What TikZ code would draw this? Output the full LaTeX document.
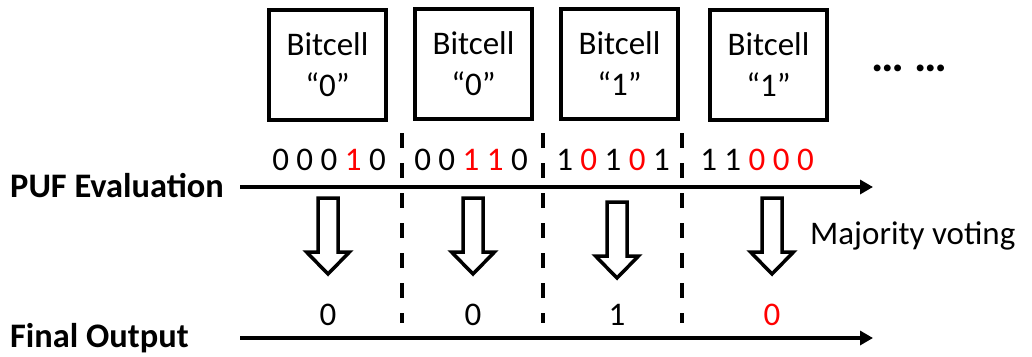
\documentclass[tikz,border=0pt]{standalone}
\usepackage{fontspec}
\setmainfont{Carlito}
\usetikzlibrary{arrows.meta}
\definecolor{bitred}{RGB}{255,0,0}
\begin{document}
\begin{tikzpicture}[x=1pt,y=-1pt,
  every node/.style={inner sep=0pt, font=\fontsize{33}{41}\selectfont},
  cellbox/.style={draw, line width=4pt, minimum width=117pt, minimum height=110pt, align=center},
  axis/.style={line width=4pt, -{Triangle[length=13pt,width=14pt]}},
  divider/.style={line width=4pt, dash pattern=on 15pt off 15pt},
  hollow/.style={draw, line width=3.5pt, line join=miter, fill=white},
  bits/.style={anchor=base},
  rowlabel/.style={anchor=base west, font=\fontsize{34.4}{41}\selectfont\bfseries}]
\useasboundingbox (0,0) rectangle (1032,356);

% bit cells
\node[cellbox] (cell1) at (327.5,64.5) {Bitcell\\“0”};
\node[cellbox] (cell2) at (473.5,63.5) {Bitcell\\“0”};
\node[cellbox] (cell3) at (619.5,63.5) {Bitcell\\“1”};
\node[cellbox] (cell4) at (768.5,64.5) {Bitcell\\“1”};
\node[anchor=base, font=\fontsize{46}{50}\selectfont\bfseries] (more) at (909,71) {… …};

% row labels and time axes
\node[rowlabel] (puf) at (10,197) {PUF Evaluation};
\node[rowlabel] (final) at (10,347) {Final Output};
\coordinate (pufS) at (240,187);
\coordinate (pufE) at (873,187);
\coordinate (outS) at (240,338);
\coordinate (outE) at (873,338);
\draw[axis] (pufS) -- (pufE);
\draw[axis] (outS) -- (outE);

% dashed separators between cells
\foreach \x [count=\i] in {402,543,682} {
  \coordinate (sepT\i) at (\x,133);
  \coordinate (sepB\i) at (\x,323);
  \draw[divider] (sepT\i) -- (sepB\i);
}

% repeated evaluation results
\node[bits] (ev1) at (329,170) {0 0 0 \textcolor{bitred}{1} 0};
\node[bits] (ev2) at (471,170) {0 0 \textcolor{bitred}{1} \textcolor{bitred}{1} 0};
\node[bits] (ev3) at (613,170) {1 \textcolor{bitred}{0} 1 \textcolor{bitred}{0} 1};
\node[bits] (ev4) at (757,170) {1 1 \textcolor{bitred}{0} \textcolor{bitred}{0} \textcolor{bitred}{0}};

% hollow down arrows
\foreach \x/\y in {328/198, 473/198, 617/202, 772/198} {
  \begin{scope}[shift={(\x,\y)}]
    \draw[hollow] (-10,0) -- (10,0) -- (10,54) -- (21.5,54) -- (0,76)
      -- (-21.5,54) -- (-10,54) -- cycle;
  \end{scope}
}
\node[anchor=base west] (vote) at (810,244) {Majority voting};

% voted outputs
\node[bits] (out1) at (328,325) {0};
\node[bits] (out2) at (473,325) {0};
\node[bits] (out3) at (617,325) {1};
\node[bits, text=bitred] (out4) at (772,325) {0};
\end{tikzpicture}
\end{document}
